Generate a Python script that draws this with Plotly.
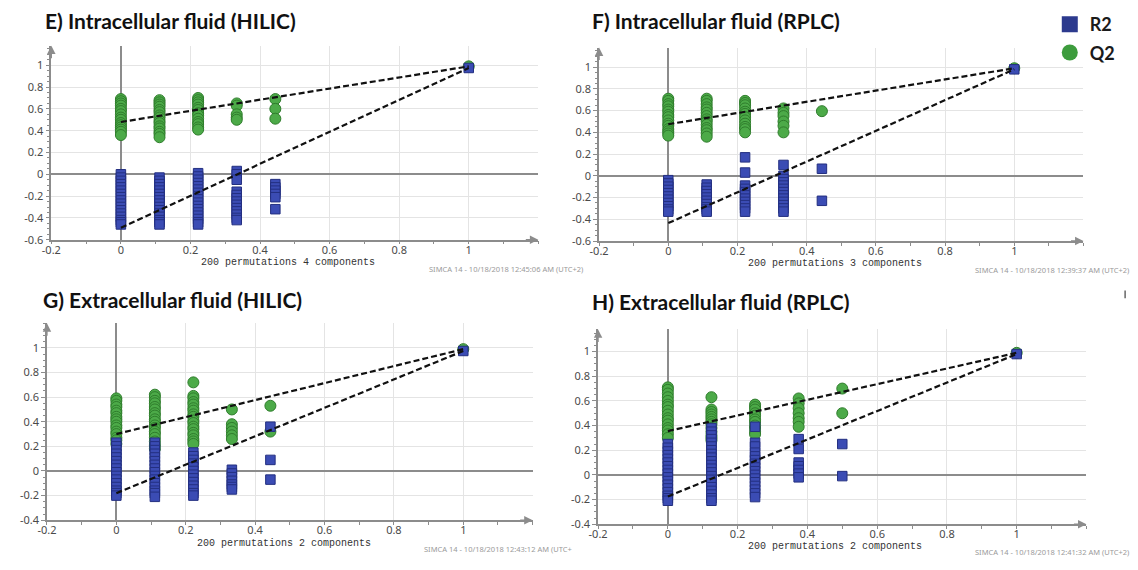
import plotly.graph_objects as go

W, H = 1138, 570

# ---------------- data ----------------
X_TICKS = [-0.2, 0, 0.2, 0.4, 0.6, 0.8, 1]
X_TICK_TEXT = ["-0.2", "0", "0.2", "0.4", "0.6", "0.8", "1"]
Y_TICKS_A = [-0.6, -0.4, -0.2, 0, 0.2, 0.4, 0.6, 0.8, 1]
Y_TICK_TEXT_A = ["-0.6", "-0.4", "-0.2", "0", "0.2", "0.4", "0.6", "0.8", "1"]
Y_TICKS_B = [-0.4, -0.2, 0, 0.2, 0.4, 0.6, 0.8, 1]
Y_TICK_TEXT_B = ["-0.4", "-0.2", "0", "0.2", "0.4", "0.6", "0.8", "1"]

E_X = [0, 0.111, 0.222, 0.333, 0.444]
E_Q2 = [
    [0.69, 0.67, 0.65, 0.63, 0.60, 0.58, 0.55, 0.52, 0.50, 0.47, 0.45, 0.43, 0.41, 0.39, 0.36],
    [0.68, 0.66, 0.64, 0.62, 0.59, 0.57, 0.54, 0.52, 0.49, 0.47, 0.44, 0.42, 0.39, 0.37, 0.34],
    [0.70, 0.68, 0.66, 0.64, 0.61, 0.59, 0.56, 0.54, 0.51, 0.48, 0.46, 0.43, 0.41],
    [0.65, 0.63, 0.55, 0.52, 0.50],
    [0.69, 0.60, 0.51],
]
E_R2 = [
    [0.00, -0.03, -0.06, -0.09, -0.12, -0.15, -0.18, -0.21, -0.24, -0.27, -0.30, -0.33, -0.36, -0.39, -0.42, -0.44, -0.46],
    [-0.03, -0.06, -0.09, -0.12, -0.15, -0.18, -0.21, -0.24, -0.27, -0.30, -0.33, -0.36, -0.39, -0.42, -0.44, -0.46],
    [0.01, -0.02, -0.05, -0.08, -0.11, -0.14, -0.17, -0.20, -0.23, -0.26, -0.29, -0.32, -0.35, -0.38, -0.41, -0.44, -0.46],
    [0.03, 0.00, -0.05, -0.16, -0.19, -0.22, -0.25, -0.28, -0.31, -0.34, -0.37, -0.40, -0.42],
    [-0.09, -0.12, -0.15, -0.18, -0.21, -0.32],
]
E_ORIG = [0.99, 0.975]          # Q2, R2 of the original model (x = 1)
E_Q2_LINE = [0.48, 0.99]
E_R2_LINE = [-0.49, 0.975]

F_X = [0, 0.111, 0.222, 0.333, 0.444]
F_Q2 = [
    [0.71, 0.69, 0.66, 0.64, 0.61, 0.59, 0.56, 0.54, 0.51, 0.48, 0.46, 0.43, 0.41, 0.39, 0.37],
    [0.71, 0.69, 0.66, 0.63, 0.61, 0.58, 0.55, 0.52, 0.50, 0.47, 0.44, 0.42, 0.39, 0.36],
    [0.69, 0.67, 0.65, 0.62, 0.59, 0.57, 0.54, 0.51, 0.48, 0.45, 0.43, 0.40],
    [0.62, 0.58, 0.55, 0.50, 0.46, 0.40],
    [0.595],
]
F_R2 = [
    [-0.04, -0.07, -0.10, -0.13, -0.16, -0.19, -0.22, -0.25, -0.28, -0.31, -0.33],
    [-0.08, -0.11, -0.14, -0.17, -0.20, -0.23, -0.26, -0.29, -0.31, -0.33],
    [0.17, 0.03, -0.09, -0.12, -0.15, -0.18, -0.21, -0.24, -0.27, -0.30, -0.33],
    [0.10, 0.00, -0.03, -0.06, -0.09, -0.12, -0.15, -0.18, -0.21, -0.24, -0.27, -0.30, -0.33],
    [0.065, -0.23],
]
F_ORIG = [0.99, 0.98]
F_Q2_LINE = [0.475, 0.99]
F_R2_LINE = [-0.435, 0.98]

G_X = [0, 0.111, 0.222, 0.333, 0.444]
G_Q2 = [
    [0.59, 0.57, 0.54, 0.52, 0.49, 0.47, 0.44, 0.42, 0.40, 0.37, 0.35, 0.32, 0.30, 0.27, 0.25, 0.22],
    [0.62, 0.60, 0.57, 0.55, 0.52, 0.50, 0.47, 0.45, 0.42, 0.40, 0.37, 0.35, 0.32, 0.30, 0.27, 0.24, 0.21, 0.18],
    [0.72, 0.61, 0.59, 0.56, 0.54, 0.51, 0.49, 0.46, 0.44, 0.41, 0.39, 0.36, 0.34, 0.31, 0.29, 0.26, 0.24, 0.22],
    [0.50, 0.38, 0.35, 0.32, 0.29, 0.26],
    [0.53, 0.32],
]
G_R2 = [
    [0.23, 0.20, 0.17, 0.14, 0.11, 0.08, 0.05, 0.02, -0.01, -0.04, -0.07, -0.10, -0.13, -0.16, -0.18, -0.20],
    [0.23, 0.20, 0.17, 0.14, 0.11, 0.08, 0.05, 0.02, -0.01, -0.04, -0.07, -0.10, -0.13, -0.16, -0.18, -0.21],
    [0.15, 0.12, 0.09, 0.06, 0.03, 0.00, -0.03, -0.06, -0.09, -0.12, -0.15, -0.18, -0.20],
    [0.01, -0.02, -0.05, -0.08, -0.11, -0.13, -0.15],
    [0.36, 0.09, -0.07],
]
G_ORIG = [0.99, 0.975]
G_Q2_LINE = [0.30, 0.99]
G_R2_LINE = [-0.18, 0.975]

H_X = [0, 0.125, 0.25, 0.375, 0.5]
H_Q2 = [
    [0.71, 0.69, 0.66, 0.63, 0.60, 0.57, 0.55, 0.52, 0.49, 0.46, 0.44, 0.41, 0.38, 0.36, 0.33, 0.30],
    [0.63, 0.53, 0.51, 0.49, 0.47, 0.45, 0.43, 0.41, 0.38, 0.35, 0.32, 0.30, 0.28],
    [0.57, 0.55, 0.53, 0.50, 0.48, 0.45, 0.43, 0.40, 0.38, 0.35, 0.33],
    [0.62, 0.58, 0.54, 0.50, 0.46, 0.43, 0.39],
    [0.70, 0.50],
]
H_R2 = [
    [0.25, 0.22, 0.19, 0.16, 0.13, 0.10, 0.07, 0.04, 0.01, -0.02, -0.05, -0.08, -0.11, -0.14, -0.17, -0.19, -0.21],
    [0.38, 0.35, 0.32, 0.29, 0.26, 0.23, 0.20, 0.17, 0.14, 0.11, 0.08, 0.05, 0.02, -0.01, -0.04, -0.07, -0.10, -0.13, -0.16, -0.19, -0.21],
    [0.39, 0.26, 0.23, 0.18, 0.15, 0.12, 0.09, 0.06, 0.03, 0.00, -0.03, -0.06, -0.09, -0.12, -0.15, -0.18],
    [0.29, 0.21, 0.10, 0.07, 0.04, 0.01, -0.02],
    [0.25, -0.01],
]
H_ORIG = [0.99, 0.98]
H_Q2_LINE = [0.355, 0.99]
H_R2_LINE = [-0.175, 0.98]

TITLES = ["E) Intracellular fluid (HILIC)", "F) Intracellular fluid (RPLC)",
          "G) Extracellular fluid (HILIC)", "H) Extracellular fluid (RPLC)"]
X_TITLES = ["200 permutations 4 components", "200 permutations 3 components",
            "200 permutations 2 components", "200 permutations 2 components"]
STAMPS = ["SIMCA 14 - 10/18/2018 12:45:06 AM (UTC+2)", "SIMCA 14 - 10/18/2018 12:39:37 AM (UTC+2)",
          "SIMCA 14 - 10/18/2018 12:43:12 AM (UTC+", "SIMCA 14 - 10/18/2018 12:41:32 AM (UTC+2)"]
LEGEND_NAMES = ["R2", "Q2"]

# ---------------- style / layout (pixel geometry) ----------------
GREEN = "#4caa48"
GREEN_EDGE = "#2f7d2c"
BLUE = "#3b4cb4"
BLUE_EDGE = "#232f80"

def px_x(p):
    return p / W

def px_y(p):
    return 1 - p / H

# panel pixel boxes: (left, right, top, bottom) and y-range
PANELS = [
    dict(box=(41.7, 533.0, 46.2, 242.7), yr=[-0.6, 1.18], yt=(Y_TICKS_A, Y_TICK_TEXT_A)),
    dict(box=(594.3, 1083.0, 48.2, 244.0), yr=[-0.6, 1.18], yt=(Y_TICKS_A, Y_TICK_TEXT_A)),
    dict(box=(37.3, 527.3, 327.3, 526.7), yr=[-0.4, 1.2], yt=(Y_TICKS_B, Y_TICK_TEXT_B)),
    dict(box=(593.3, 1086.0, 333.5, 530.7), yr=[-0.4, 1.18], yt=(Y_TICKS_B, Y_TICK_TEXT_B)),
]
TITLE_POS = [(33, 21), (585, 21), (31, 303), (585, 305)]
XTITLE_POS = [(280, 266), (832, 267), (276, 550), (832, 553)]
STAMP_POS = [(421, 272), (972, 273), (416, 556), (972, 559)]

DATA = [
    (E_X, E_Q2, E_R2, E_ORIG, E_Q2_LINE, E_R2_LINE),
    (F_X, F_Q2, F_R2, F_ORIG, F_Q2_LINE, F_R2_LINE),
    (G_X, G_Q2, G_R2, G_ORIG, G_Q2_LINE, G_R2_LINE),
    (H_X, H_Q2, H_R2, H_ORIG, H_Q2_LINE, H_R2_LINE),
]

fig = go.Figure()
AXC = "#8c8c8c"
TICKFONT = dict(family="Noto Sans", size=11, color="#4a4a4a")
annotations = []
layout_axes = {}

for i, (xs, q2, r2, orig, q2line, r2line) in enumerate(DATA):
    n = "" if i == 0 else str(i + 1)
    xa, ya = "x" + n, "y" + n
    p = PANELS[i]
    l, r, t, b = p["box"]
    layout_axes["xaxis" + n] = dict(
        domain=[px_x(l), px_x(r)], anchor=ya, range=[-0.2, 1.2],
        tickmode="array", tickvals=X_TICKS, ticktext=X_TICK_TEXT,
        showgrid=True, gridcolor="#e4e4e4", gridwidth=1,
        zeroline=True, zerolinecolor=AXC, zerolinewidth=1.5,
        showline=True, linecolor=AXC, linewidth=1.5,
        ticks="outside", ticklen=3, tickcolor=AXC, tickwidth=1,
        ticklabelstandoff=-4,
        minor=dict(tickmode="linear", tick0=0, dtick=0.1, ticks="outside",
                   ticklen=3, tickcolor=AXC, showgrid=False),
        tickfont=TICKFONT, fixedrange=True,
    )
    layout_axes["yaxis" + n] = dict(
        domain=[px_y(b), px_y(t)], anchor=xa, range=p["yr"],
        tickmode="array", tickvals=p["yt"][0], ticktext=p["yt"][1],
        showgrid=True, gridcolor="#e4e4e4", gridwidth=1,
        zeroline=True, zerolinecolor=AXC, zerolinewidth=1.5,
        showline=True, linecolor=AXC, linewidth=1.5,
        ticks="outside", ticklen=4, tickcolor=AXC, tickwidth=1,
        minor=dict(tickmode="linear", tick0=0, dtick=0.05, ticks="outside",
                   ticklen=2.5, tickcolor=AXC, showgrid=False),
        tickfont=TICKFONT, fixedrange=True,
    )

    # Q2 circles
    qx, qy = [], []
    for cx, col in zip(xs, q2):
        for v in col:
            qx.append(cx)
            qy.append(v)
    qx.append(1)
    qy.append(orig[0])
    fig.add_trace(go.Scatter(
        x=qx, y=qy, mode="markers", xaxis=xa, yaxis=ya, showlegend=False,
        marker=dict(symbol="circle", size=11, color=GREEN,
                    line=dict(color=GREEN_EDGE, width=1)),
        hoverinfo="skip"))
    # R2 squares
    rx, ry = [], []
    for cx, col in zip(xs, r2):
        for v in col:
            rx.append(cx)
            ry.append(v)
    rx.append(1)
    ry.append(orig[1])
    fig.add_trace(go.Scatter(
        x=rx, y=ry, mode="markers", xaxis=xa, yaxis=ya, showlegend=False,
        marker=dict(symbol="square", size=9.5, color=BLUE,
                    line=dict(color=BLUE_EDGE, width=1)),
        hoverinfo="skip"))
    # regression lines
    for line_y in (q2line, r2line):
        fig.add_trace(go.Scatter(
            x=[0, 1], y=line_y, mode="lines", xaxis=xa, yaxis=ya, showlegend=False,
            line=dict(color="#111111", width=2.2, dash="6px,3px"),
            hoverinfo="skip"))

    # axis arrows
    annotations.append(dict(x=-0.2, y=p["yr"][1], xref=xa, yref=ya, text="",
                            showarrow=True, ax=0, ay=14, arrowhead=2, arrowsize=1.3,
                            arrowwidth=1.3, arrowcolor=AXC, standoff=0))
    annotations.append(dict(x=1.2, y=p["yr"][0], xref=xa, yref=ya, text="",
                            showarrow=True, ax=-14, ay=0, arrowhead=2, arrowsize=1.3,
                            arrowwidth=1.3, arrowcolor=AXC, standoff=0))
    # panel title
    tx, ty = TITLE_POS[i]
    annotations.append(dict(x=px_x(tx), y=px_y(ty), xref="paper", yref="paper",
                            xanchor="left", yanchor="middle", showarrow=False,
                            text=TITLES[i],
                            font=dict(family="Lato", size=21, weight="bold", color="#111111")))
    # x-axis title
    xtx, xty = XTITLE_POS[i]
    annotations.append(dict(x=px_x(xtx), y=px_y(xty), xref="paper", yref="paper",
                            xanchor="center", yanchor="middle", showarrow=False,
                            text=X_TITLES[i],
                            font=dict(family="Liberation Mono", size=10, color="#333333")))
    # SIMCA stamp
    sx, sy = STAMP_POS[i]
    annotations.append(dict(x=px_x(sx), y=px_y(sy), xref="paper", yref="paper",
                            xanchor="left", yanchor="middle", showarrow=False,
                            text=STAMPS[i],
                            font=dict(family="Noto Sans", size=7.5, color="#9a9a9a")))

# legend (dummy traces carrying only the legend symbols)
fig.add_trace(go.Scatter(x=[None], y=[None], mode="markers", name=LEGEND_NAMES[0],
                         legendgroup="r2",
                         marker=dict(symbol="square", size=16, color="#2c3a8e",
                                     line=dict(width=0))))
fig.add_trace(go.Scatter(x=[None], y=[None], mode="markers", name=LEGEND_NAMES[1],
                         legendgroup="q2",
                         marker=dict(symbol="circle", size=16, color="#3d9c3d",
                                     line=dict(width=0))))

fig.update_layout(
    width=W, height=H, margin=dict(l=0, r=0, t=0, b=0),
    paper_bgcolor="white", plot_bgcolor="white",
    showlegend=True,
    legend=dict(x=px_x(1049), y=px_y(6), xanchor="left", yanchor="top",
                font=dict(family="Lato", size=18, weight="bold", color="#1a1a1a"),
                bgcolor="rgba(0,0,0,0)", tracegroupgap=2, itemclick=False,
                itemdoubleclick=False),
    annotations=annotations,
    shapes=[dict(type="line", xref="paper", yref="paper",
                 x0=px_x(1125), x1=px_x(1125), y0=px_y(294), y1=px_y(302),
                 line=dict(color="#666666", width=1.5))],
    **layout_axes,
)

fig.write_html("out.html", config={"displayModeBar": False},
               post_script="document.body.style.margin='0';")
